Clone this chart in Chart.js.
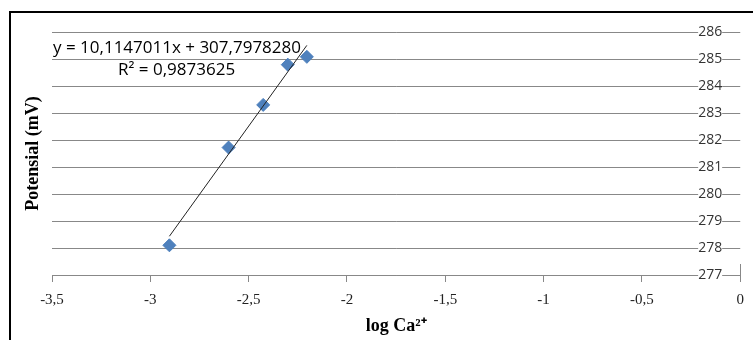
<!DOCTYPE html>
<html>
<head>
<meta charset="utf-8">
<script src="https://cdn.jsdelivr.net/npm/chart.js@4/dist/chart.umd.min.js"></script>
<style>
  html, body { margin: 0; padding: 0; background: #fff; }
  #wrap { position: relative; width: 753px; height: 340px; }
</style>
</head>
<body>
<div id="wrap"><canvas id="c" width="753" height="340"></canvas></div>
<script>
// ---- data ----
const logCa = [-2.903, -2.602, -2.426, -2.301, -2.204];
const potential = [278.1, 281.72, 283.3, 284.79, 285.08];
const xTicks = [-3.5, -3, -2.5, -2, -1.5, -1, -0.5, 0];
const yTicks = [277, 278, 279, 280, 281, 282, 283, 284, 285, 286];
const slope = 10.1147011;
const intercept = 307.7978280;
const equationText = 'y = 10,1147011x + 307,7978280';
const r2Text = 'R² = 0,9873625';
const xTitle = 'log Ca²⁺';
const yTitle = 'Potensial (mV)';

const points = logCa.map((x, i) => ({ x: x, y: potential[i] }));
const xMinData = Math.min(...logCa), xMaxData = Math.max(...logCa);
const trend = [
  { x: xMinData, y: slope * xMinData + intercept },
  { x: xMaxData, y: slope * xMaxData + intercept }
];

const fmt = v => String(v).replace('.', ',');

const framePlugin = {
  id: 'frame',
  beforeDraw(chart) {
    const ctx = chart.ctx;
    ctx.save();
    ctx.fillStyle = '#000';
    ctx.fillRect(9, 11, 2, 340);
    ctx.fillRect(9, 11, 760, 2);
    ctx.restore();
  },
  afterDraw(chart) {
    // small vertical axis stub at the crossing point (x = 0)
    const ctx = chart.ctx;
    const xs = chart.scales.x, ys = chart.scales.y;
    const px = Math.round(xs.getPixelForValue(xTicks[xTicks.length - 1])) + 0.5;
    const py = ys.getPixelForValue(yTicks[0]);
    ctx.save();
    ctx.strokeStyle = '#888';
    ctx.lineWidth = 1;
    ctx.beginPath();
    ctx.moveTo(px, py - 11);
    ctx.lineTo(px, py + 7);
    ctx.stroke();
    ctx.restore();
  }
};

const eqPlugin = {
  id: 'eq',
  afterDatasetsDraw(chart) {
    const ctx = chart.ctx;
    const a = chart.chartArea;
    ctx.save();
    ctx.fillStyle = '#000';
    ctx.font = '17px "Open Sans", sans-serif';
    ctx.textBaseline = 'middle';
    ctx.textAlign = 'left';
    ctx.fillText(equationText, a.left + 1, 48);
    ctx.fillText(r2Text, a.left + 66, 70);
    ctx.restore();
  }
};

new Chart(document.getElementById('c'), {
  type: 'scatter',
  data: {
    datasets: [
      {
        label: 'trend',
        data: trend,
        showLine: true,
        borderColor: '#222',
        borderWidth: 1,
        pointRadius: 0,
        fill: false
      },
      {
        label: 'data',
        data: points,
        pointStyle: 'rectRot',
        pointRadius: 6.5,
        backgroundColor: '#4F81BD',
        borderColor: '#4A7EBB',
        borderWidth: 1
      }
    ]
  },
  options: {
    responsive: false,
    animation: false,
    layout: { padding: { left: 0, right: 8, top: 32, bottom: 2 } },
    plugins: { legend: { display: false }, tooltip: { enabled: false } },
    scales: {
      x: {
        type: 'linear',
        position: 'bottom',
        min: -3.5, max: 0,
        afterBuildTicks: s => { s.ticks = xTicks.map(v => ({ value: v })); },
        afterFit: s => { s.height = 63; },
        ticks: {
          callback: v => fmt(v),
          color: '#222',
          font: { family: '"Liberation Serif", serif', size: 15 },
          padding: 9,
          maxRotation: 0
        },
        grid: { drawOnChartArea: false, drawTicks: true, tickLength: 7, color: '#888', lineWidth: 1 },
        border: { display: true, color: '#888', width: 1 },
        title: {
          display: true,
          text: xTitle,
          color: '#000',
          font: { family: '"Liberation Serif", serif', size: 18, weight: 'bold' },
          padding: { top: 0, bottom: 1 }
        }
      },
      y: {
        type: 'linear',
        // labels sit just left of the x = 0 crossing
        position: { x: -0.092 },
        min: 277, max: 286,
        afterBuildTicks: s => { s.ticks = yTicks.map(v => ({ value: v })); },
        ticks: {
          color: '#333',
          font: { family: '"Open Sans", sans-serif', size: 14 },
          showLabelBackdrop: true,
          backdropColor: '#fff',
          backdropPadding: ctx => (ctx.tick && ctx.tick.value === 277)
            ? { left: 2, right: 5, top: 0, bottom: 0 }
            : { left: 2, right: 21, top: 0, bottom: 0 }
        },
        grid: { drawTicks: false, tickLength: 0, color: '#888', lineWidth: 1 },
        border: { display: false }
      },
      yL: {
        type: 'linear',
        position: 'left',
        min: 277, max: 286,
        display: true,
        afterFit: s => { s.width = 52; },
        ticks: { display: false },
        grid: { display: false, drawTicks: false },
        border: { display: false },
        title: {
          display: true,
          text: yTitle,
          color: '#000',
          font: { family: '"Liberation Serif", serif', size: 18, weight: 'bold' },
          padding: { top: 23, bottom: 0 }
        }
      }
    }
  },
  plugins: [framePlugin, eqPlugin]
});
</script>
</body>
</html>
